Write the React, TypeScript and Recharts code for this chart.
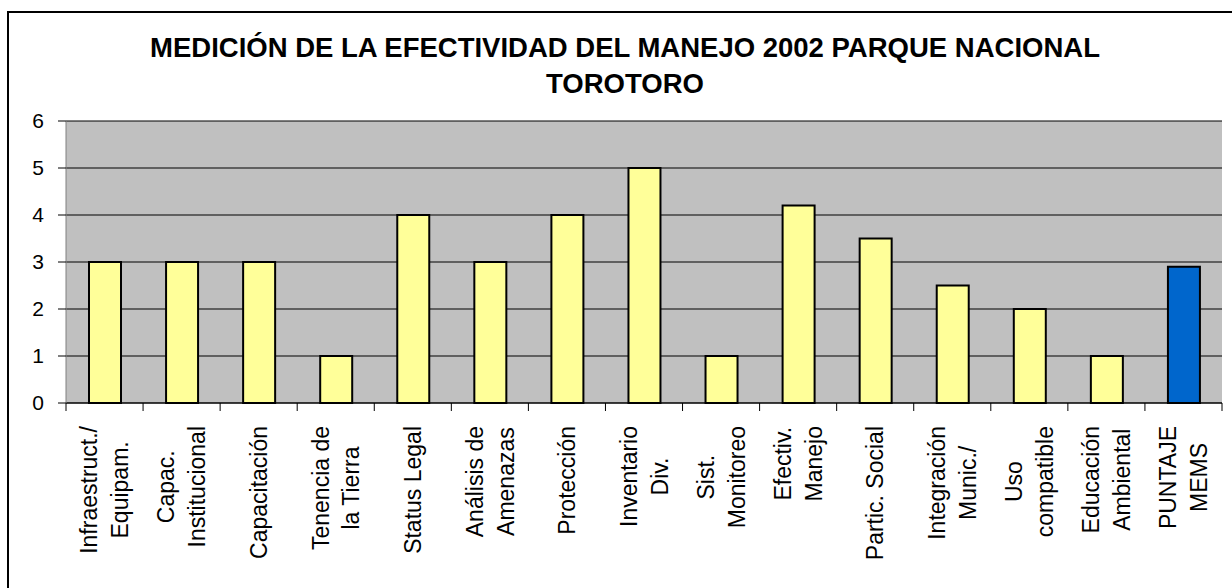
import React from "react";
import { BarChart, Bar, XAxis, YAxis, CartesianGrid, Cell } from "recharts";

// categories (line breaks as in the original labels) and scores
const categories = [
  "Infraestruct./\nEquipam.",
  "Capac.\nInstitucional",
  "Capacitación",
  "Tenencia de\nla Tierra",
  "Status Legal",
  "Análisis de\nAmenazas",
  "Protección",
  "Inventario\nDiv.",
  "Sist.\nMonitoreo",
  "Efectiv.\nManejo",
  "Partic. Social",
  "Integración\nMunic./",
  "Uso\ncompatible",
  "Educación\nAmbiental",
  "PUNTAJE\nMEMS",
];
const scores = [3, 3, 3, 1, 4, 3, 4, 5, 1, 4.2, 3.5, 2.5, 2, 1, 2.9];
const yTicks = [0, 1, 2, 3, 4, 5, 6];
const totalIndex = categories.length - 1;

const data = categories.map((name, i) => ({ name, value: scores[i] }));

const FONT = "'Liberation Sans', Arial, sans-serif";
const LABEL_SIZE = 23;

let measureCtx: CanvasRenderingContext2D | null = null;
function textWidth(s: string) {
  if (!measureCtx) {
    measureCtx = document.createElement("canvas").getContext("2d");
  }
  if (!measureCtx) return s.length * LABEL_SIZE * 0.5;
  measureCtx.font = `${LABEL_SIZE}px "Liberation Sans"`;
  return measureCtx.measureText(s).width;
}

// rotated, centred multi-line labels with tick marks between categories
function CategoryTick(props: any) {
  const { x, y, payload, index } = props;
  const half = payload.offset || 77 / 2;
  const lines: string[] = String(payload.value).split("\n");
  const longest = Math.max(...lines.map(textWidth));
  const top = y + 23;
  const gap = 31;
  return (
    <g>
      <line x1={x - half} y1={y} x2={x - half} y2={y + 8} stroke="#000" />
      {index === totalIndex && <line x1={x + half} y1={y} x2={x + half} y2={y + 8} stroke="#000" />}
      <g transform={`translate(${x},${top}) rotate(-90)`}>
        {lines.map((line, i) => (
          <text
            key={i}
            x={-longest / 2}
            y={(i - (lines.length - 1) / 2) * gap + LABEL_SIZE * 0.36}
            textAnchor="middle"
            fontFamily={FONT}
            fontSize={LABEL_SIZE}
            fill="#000"
          >
            {line}
          </text>
        ))}
      </g>
    </g>
  );
}

export default function App() {
  return (
    <div style={{ position: "absolute", left: 0, top: 0, width: 1232, height: 588, background: "#fff", overflow: "hidden" }}>
      <div
        style={{
          position: "absolute",
          left: 7,
          top: 11,
          width: 1260,
          height: 620,
          border: "2px solid #000",
        }}
      />
      <div
        style={{
          position: "absolute",
          left: 0,
          top: 30,
          width: 1250,
          textAlign: "center",
          fontFamily: FONT,
          fontWeight: "bold",
          fontSize: 27.5,
          lineHeight: "36px",
          color: "#000",
        }}
      >
        MEDICIÓN DE LA EFECTIVIDAD DEL MANEJO 2002 PARQUE NACIONAL
        <br />
        TOROTORO
      </div>
      <div style={{ position: "absolute", left: 0, top: 0 }}>
        <BarChart width={1232} height={588} data={data} margin={{ top: 121, right: 10, bottom: 0, left: 0 }}>
          <CartesianGrid vertical={false} stroke="#000" fill="#C0C0C0" fillOpacity={1} />
          <XAxis
            dataKey="name"
            height={185}
            interval={0}
            tickLine={false}
            tickSize={0}
            tickMargin={0}
            axisLine={{ stroke: "#000" }}
            tick={<CategoryTick />}
          />
          <XAxis xAxisId="top" orientation="top" dataKey="name" height={0} tick={false} tickLine={false} axisLine={{ stroke: "#808080" }} />
          <YAxis
            domain={[0, 6]}
            ticks={yTicks}
            width={66}
            tickSize={8}
            tickMargin={14}
            tickLine={{ stroke: "#000" }}
            axisLine={{ stroke: "#808080" }}
            tick={{ fill: "#000", fontSize: 21, fontFamily: FONT }}
          />
          <YAxis yAxisId="right" orientation="right" width={0} tick={false} tickLine={false} axisLine={{ stroke: "#808080" }} />
          <Bar dataKey="value" barSize={32} stroke="#000" strokeWidth={2} isAnimationActive={false}>
            {data.map((d, i) => (
              <Cell key={d.name} fill={i === totalIndex ? "#0066CC" : "#FFFF99"} />
            ))}
          </Bar>
        </BarChart>
      </div>
    </div>
  );
}
